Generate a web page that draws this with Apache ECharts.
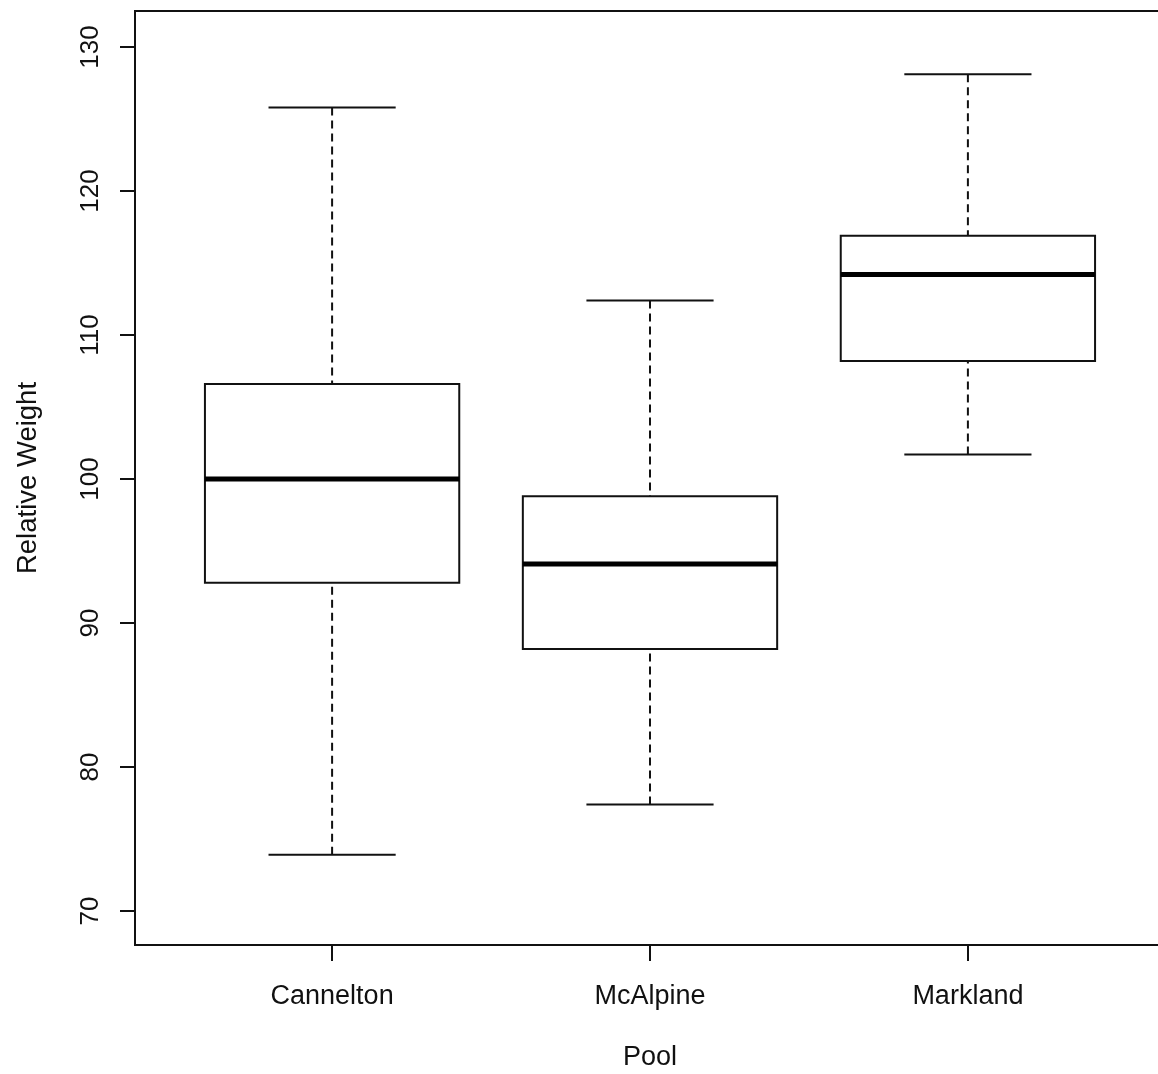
<!DOCTYPE html>
<html><head><meta charset="utf-8">
<script src="https://cdn.jsdelivr.net/npm/echarts@6/dist/echarts.min.js"></script>
<style>html,body{margin:0;padding:0;background:#fff}#c{width:1158px;height:1074px}</style>
</head><body><div id="c"></div>
<script>
// Data (Relative Weight by Pool)
const categories = ['Cannelton', 'McAlpine', 'Markland'];
const categoryPositions = [1, 2, 3];
const whiskerLow = [73.9, 77.4, 101.7];
const q1Values = [92.8, 88.2, 108.2];
const medianValues = [100.0, 94.1, 114.2];
const q3Values = [106.6, 98.8, 116.9];
const whiskerHigh = [125.8, 112.4, 128.1];
const yTicks = [70, 80, 90, 100, 110, 120, 130];

const seriesData = categories.map((c, i) => [
  categoryPositions[i], whiskerLow[i], q1Values[i], medianValues[i], q3Values[i], whiskerHigh[i]
]);

const FONT = '"Liberation Sans", Arial, sans-serif';
const INK = '#111';

function renderBox(params, api) {
  const x = api.value(0);
  const lo = api.value(1), q1 = api.value(2), md = api.value(3), q3 = api.value(4), hi = api.value(5);
  const boxHalf = 0.4, capHalf = 0.2;
  const pL = api.coord([x - boxHalf, q3]);
  const pR = api.coord([x + boxHalf, q1]);
  const cL = api.coord([x - capHalf, hi]);
  const cR = api.coord([x + capHalf, lo]);
  const pMid = api.coord([x, md]);
  const pQ1 = api.coord([x, q1]);
  const pQ3 = api.coord([x, q3]);
  const pHi = api.coord([x, hi]);
  const pLo = api.coord([x, lo]);
  const solid = { stroke: INK, lineWidth: 2, fill: null };
  const dashed = { stroke: INK, lineWidth: 2, lineDash: [8, 5], fill: null };
  return {
    type: 'group',
    children: [
      { type: 'line', shape: { x1: pHi[0], y1: pHi[1], x2: pQ3[0], y2: pQ3[1] }, style: dashed },
      { type: 'line', shape: { x1: pLo[0], y1: pLo[1], x2: pQ1[0], y2: pQ1[1] }, style: dashed },
      { type: 'line', shape: { x1: cL[0], y1: pHi[1], x2: cR[0], y2: pHi[1] }, style: solid },
      { type: 'line', shape: { x1: cL[0], y1: pLo[1], x2: cR[0], y2: pLo[1] }, style: solid },
      { type: 'rect', shape: { x: pL[0], y: pL[1], width: pR[0] - pL[0], height: pR[1] - pL[1] },
        style: { stroke: INK, lineWidth: 2, fill: '#fff' } },
      { type: 'line', shape: { x1: pL[0], y1: pMid[1], x2: pR[0], y2: pMid[1] },
        style: { stroke: '#000', lineWidth: 5 } }
    ]
  };
}

const chart = echarts.init(document.getElementById('c'), null, { renderer: 'canvas' });
chart.setOption({
  backgroundColor: '#fff',
  animation: false,
  grid: {
    left: 135, top: 11, width: 1030, height: 934,
    outerBoundsMode: 'none', containLabel: false,
    show: true, borderColor: INK, borderWidth: 2, backgroundColor: 'transparent'
  },
  xAxis: {
    type: 'value', min: 0.38, max: 3.62,
    name: 'Pool', nameLocation: 'middle', nameGap: 99,
    nameTextStyle: { fontFamily: FONT, fontSize: 27, color: INK },
    axisLine: { show: false },
    splitLine: { show: false },
    axisTick: { show: true, length: 16, lineStyle: { color: INK, width: 2 }, customValues: categoryPositions },
    axisLabel: {
      fontFamily: FONT, fontSize: 27, color: INK, margin: 38,
      customValues: categoryPositions,
      formatter: v => categories[categoryPositions.indexOf(Math.round(v))] || ''
    }
  },
  yAxis: {
    type: 'value', min: 67.64, max: 132.5,
    name: 'Relative Weight', nameLocation: 'middle', nameGap: 93, nameRotate: 90,
    nameTextStyle: { fontFamily: FONT, fontSize: 27.5, color: INK },
    axisLine: { show: false },
    splitLine: { show: false },
    axisTick: { show: true, length: 15, lineStyle: { color: INK, width: 2 }, customValues: yTicks },
    axisLabel: {
      fontFamily: FONT, fontSize: 26, color: INK, rotate: 90, margin: 31,
      customValues: yTicks
    }
  },
  series: [{
    type: 'custom',
    renderItem: renderBox,
    encode: { x: 0, y: [1, 2, 3, 4, 5] },
    data: seriesData,
    clip: false
  }]
});
</script></body></html>
